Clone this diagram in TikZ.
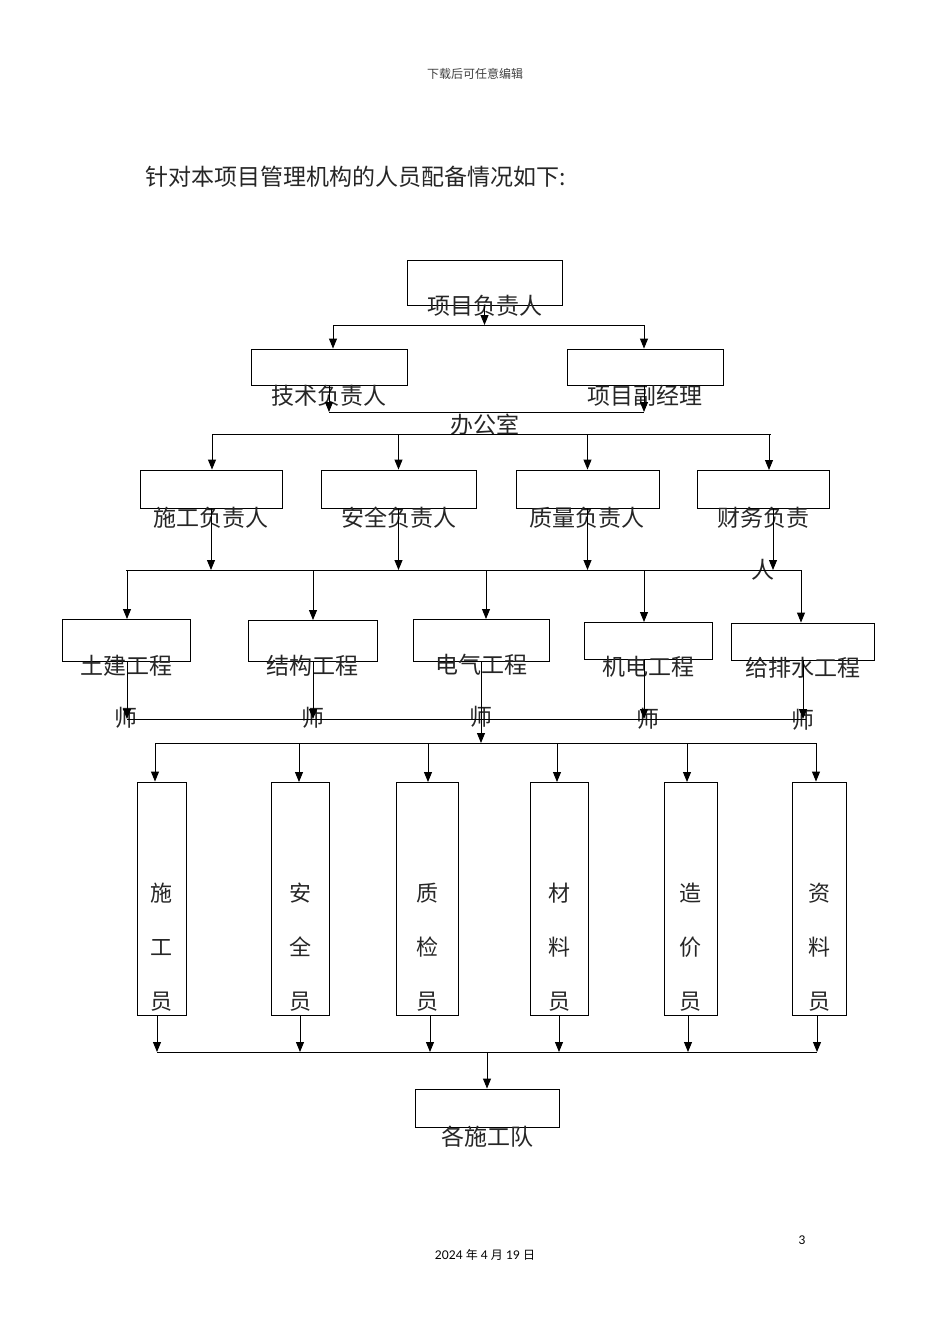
\documentclass[tikz,border=0pt]{standalone}
\usepackage{fontspec}
\setmainfont{Lato}
\newfontfamily\cjk{Noto Sans CJK SC}
\usetikzlibrary{arrows.meta}

\begin{document}
\begin{tikzpicture}[x=1pt,y=-1pt,>={Triangle[length=10pt,width=8pt]},line width=0.9pt,
  every node/.style={inner sep=0pt},
  kuang/.style={draw,line width=0.9pt},
  wz/.style={font=\cjk\fontsize{23}{52}\selectfont,align=center,text=black!85},
  shu/.style={font=\cjk\fontsize{22}{54}\selectfont,align=center,text=black!85}]
\useasboundingbox (0,0) rectangle (950,1344);
\node[font=\cjk\fontsize{12}{14}\selectfont,text=black!75] (ymei) at (475,74) {下载后可任意编辑};
\node[font=\cjk\fontsize{23}{26}\selectfont,anchor=west,text=black!85] (biaoti) at (145,177) {针对本项目管理机构的人员配备情况如下:};
% 项目负责人
\node[kuang,minimum width=155,minimum height=45] (fzr) at (484.5,282.5) {};\node[wz] (fzr-t) at (485,306) {项目负责人};
\coordinate (h1l) at (333,325);\coordinate (h1r) at (644,325);
\draw[->] (fzr.south)--(fzr.south |- h1l);\draw (h1l)--(h1r);
\node[kuang,minimum width=156,minimum height=36] (jsfzr) at (329,367) {};\node[wz] (jsfzr-t) at (329,396) {技术负责人};
\node[kuang,minimum width=156,minimum height=36] (fjl) at (645,367) {};\node[wz] (fjl-t) at (645,396) {项目副经理};
\draw[->] (h1l)--(h1l |- jsfzr.north);\draw[->] (h1r)--(h1r |- fjl.north);
% 办公室
\coordinate (h2l) at (329,412);\coordinate (h2r) at (644,412);
\draw[->] (jsfzr.south)--(h2l);\draw[->] (h2r |- fjl.south)--(h2r);\draw (h2l)--(h2r);
\node[wz] (bgs) at (485,425) {办公室};
\coordinate (h3l) at (212,434);\coordinate (h3r) at (771,434);\draw (h3l)--(h3r);
% 各负责人
\node[kuang,minimum width=142,minimum height=38] (sg) at (211,489) {};\node[wz] (sg-t) at (211,518) {施工负责人};
\node[kuang,minimum width=155,minimum height=38] (aq) at (398.5,489) {};\node[wz] (aq-t) at (399,518) {安全负责人};
\node[kuang,minimum width=143,minimum height=38] (zl) at (587.5,489) {};\node[wz] (zl-t) at (587,518) {质量负责人};
\node[kuang,minimum width=132,minimum height=38] (cw) at (763,489) {};\node[wz] (cw-t) at (763,544) {财务负责\\人};
\draw[->] (h3l)--(h3l |- sg.north);\draw[->] (aq.north |- h3l)--(aq.north);
\draw[->] (zl.north |- h3l)--(zl.north);\draw[->] (769,434)--(769,470);
\coordinate (h4l) at (126,570);\coordinate (h4r) at (801,570);\draw (h4l)--(h4r);
\draw[->] (sg.south)--(sg.south |- h4l);\draw[->] (aq.south)--(aq.south |- h4l);
\draw[->] (zl.south)--(zl.south |- h4l);\draw[->] ([xshift=10pt]cw.south)--([xshift=10pt]cw.south |- h4l);
% 各工程师
\node[kuang,minimum width=128,minimum height=42] (tj) at (126,640) {};\node[wz] (tj-t) at (126,692) {土建工程\\师};
\node[kuang,minimum width=129,minimum height=41] (jg) at (312.5,640.5) {};\node[wz] (jg-t) at (312.5,692) {结构工程\\师};
\node[kuang,minimum width=136,minimum height=42] (dq) at (481,640) {};\node[wz] (dq-t) at (481,691) {电气工程\\师};
\node[kuang,minimum width=128,minimum height=37] (jd) at (648,640.5) {};\node[wz] (jd-t) at (648,693) {机电工程\\师};
\node[kuang,minimum width=143,minimum height=37] (gps) at (802.5,641.5) {};\node[wz] (gps-t) at (803,694) {给排水工程\\师};
\draw[->] (127,570)--(127,619);\draw[->] (313,570)--(313,620);\draw[->] (486,570)--(486,619);
\draw[->] (644,570)--(644,622);\draw[->] (h4r)--(h4r |- gps.north);
\coordinate (h5l) at (127,719);\coordinate (h5r) at (806,719);\draw (h5l)--(h5r);
\draw[->] (127,661)--(h5l);\draw[->] (313,661)--(313,719);\draw[->] (644,659)--(644,719);\draw[->] (803,660)--(803,719);
\coordinate (h6l) at (155,743);\coordinate (h6r) at (816,743);\draw (h6l)--(h6r);
\draw[->] (dq.south)--(dq.south |- h6l);
% 各员
\node[kuang,minimum width=49,minimum height=233] (sgy) at (161.5,898.5) {};\node[shu] (sgy-t) at (161.5,947) {施\\工\\员};
\node[kuang,minimum width=58,minimum height=233] (aqy) at (300,898.5) {};\node[shu] (aqy-t) at (300,947) {安\\全\\员};
\node[kuang,minimum width=62,minimum height=233] (zjy) at (427,898.5) {};\node[shu] (zjy-t) at (427,947) {质\\检\\员};
\node[kuang,minimum width=58,minimum height=233] (cly) at (559,898.5) {};\node[shu] (cly-t) at (559,947) {材\\料\\员};
\node[kuang,minimum width=53,minimum height=233] (zjjy) at (690.5,898.5) {};\node[shu] (zjjy-t) at (690.5,947) {造\\价\\员};
\node[kuang,minimum width=54,minimum height=233] (zly) at (819,898.5) {};\node[shu] (zly-t) at (819,947) {资\\料\\员};
\draw[->] (h6l)--(h6l |- sgy.north);\draw[->] (299,743)--(299,782);\draw[->] (428,743)--(428,782);
\draw[->] (557,743)--(557,782);\draw[->] (687,743)--(687,782);\draw[->] (h6r)--(h6r |- zly.north);
\coordinate (h7l) at (157,1052);\coordinate (h7r) at (817,1052);\draw (h7l)--(h7r);
\draw[->] (157,1015)--(h7l);\draw[->] (aqy.south)--(aqy.south |- h7l);\draw[->] (430,1015)--(430,1052);
\draw[->] (cly.south)--(cly.south |- h7l);\draw[->] (688,1015)--(688,1052);\draw[->] (817,1015)--(h7r);
% 各施工队
\node[kuang,minimum width=144,minimum height=38] (gsgd) at (487,1108) {};\node[wz] (gsgd-t) at (487,1137) {各施工队};
\draw[->] (gsgd.north |- h7l)--(gsgd.north);
\node[font=\fontsize{12}{14}\selectfont] (yema) at (802,1240) {3};
\node[font=\fontsize{12}{14}\selectfont] (riqi) at (485,1255) {2024 {\cjk 年} 4 {\cjk 月} 19 {\cjk 日}};
\end{tikzpicture}
\end{document}
